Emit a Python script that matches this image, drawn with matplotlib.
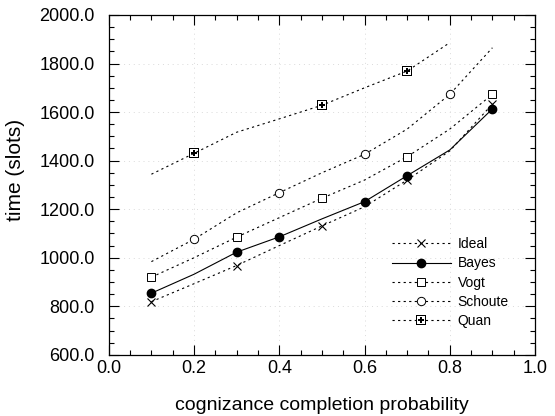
import matplotlib
matplotlib.use('Agg')
import matplotlib.pyplot as plt
from matplotlib.ticker import MultipleLocator, FormatStrFormatter

plt.rcParams['font.family'] = ['Liberation Sans', 'DejaVu Sans']
plt.rcParams['mathtext.fontset'] = 'dejavusans'

# cognizance completion probability
prob = [0.1, 0.2, 0.3, 0.4, 0.5, 0.6, 0.7, 0.8, 0.9]

# time (slots) per method
ideal = [819, 893, 968, 1050, 1131, 1210, 1320, 1440, 1633]
bayes = [854, 932, 1023, 1086, 1160, 1231, 1338, 1444, 1613]
vogt = [920, 1000, 1085, 1165, 1245, 1320, 1416, 1530, 1673]
schoute = [984, 1076, 1185, 1268, 1350, 1426, 1530, 1673, 1865]
quan = [1344, 1430, 1517, 1572, 1628, 1700, 1769, 1886]

fig = plt.figure(figsize=(5.55, 4.16), dpi=100)
ax = fig.add_axes([0.196, 0.147, 0.768, 0.817])

dots = (0, (2, 3))
ax.plot(prob, ideal, color='k', lw=0.8, ls=dots, marker='x', ms=6, mew=0.8,
        markevery=[0, 2, 4, 6, 8], label='Ideal')
ax.plot(prob, bayes, color='k', lw=0.8, ls='-', marker='o', ms=6,
        markevery=[0, 2, 3, 5, 6, 8], label='Bayes')
ax.plot(prob, vogt, color='k', lw=0.8, ls=dots, marker='s', ms=6, mew=0.7,
        mfc='white', markevery=[0, 2, 4, 6, 8], label='Vogt')
ax.plot(prob, schoute, color='k', lw=0.8, ls=dots, marker='o', ms=6, mew=0.7,
        mfc='white', markevery=[1, 3, 5, 7], label='Schoute')
ax.plot(prob[:8], quan, color='k', lw=0.8, ls=dots, marker=r'$\boxplus$', ms=7,
        mew=0, markevery=[1, 4, 6], label='Quan')

ax.set_xlim(0.0, 1.0)
ax.set_ylim(600, 2000)
ax.xaxis.set_major_locator(MultipleLocator(0.2))
ax.xaxis.set_minor_locator(MultipleLocator(0.05))
ax.yaxis.set_major_locator(MultipleLocator(200))
ax.yaxis.set_minor_locator(MultipleLocator(50))
ax.xaxis.set_major_formatter(FormatStrFormatter('%.1f'))
ax.yaxis.set_major_formatter(FormatStrFormatter('%.1f'))
ax.tick_params(which='both', direction='in', top=True, right=True, width=0.8)
ax.tick_params(which='major', length=7, labelsize=13)
ax.tick_params(which='minor', length=3.5)
ax.tick_params(axis='x', pad=4)
ax.tick_params(axis='y', pad=10)
ax.grid(True, which='major', color='#dadada', ls=(0, (1, 4)), lw=0.7)
for s in ax.spines.values():
    s.set_linewidth(0.9)

ax.set_xlabel('cognizance completion probability', fontsize=14, labelpad=14)
ax.set_ylabel('time (slots)', fontsize=15)
ax.yaxis.set_label_coords(-0.197, 0.544)

ax.legend(loc='lower right', bbox_to_anchor=(0.951, 0.062), frameon=False,
          fontsize=10, handlelength=4.2, handletextpad=0.5, labelspacing=0.38,
          borderaxespad=0)

fig.savefig('out.png', dpi=100)
